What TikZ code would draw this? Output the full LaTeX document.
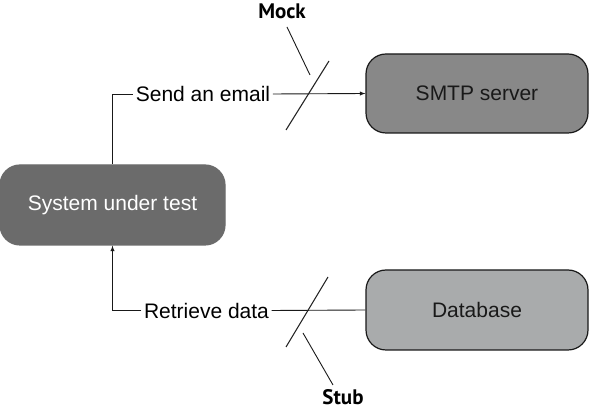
\documentclass[tikz,border=0pt]{standalone}
\usepackage{fontspec}
\setmainfont{Liberation Sans}
\newfontfamily\calloutfont{PT Sans}
\usetikzlibrary{arrows}
\definecolor{sutgray}{HTML}{6B6B6B}
\definecolor{smtpgray}{HTML}{888888}
\definecolor{dbgray}{HTML}{A9ABAC}
\tikzset{
    box/.style={rounded corners=20pt,minimum width=222pt,minimum height=79pt,
        draw=black!90,line width=1.2pt,text=black!90,
        font=\fontsize{21}{24}\selectfont},
    msg/.style={inner sep=2.5pt,font=\fontsize{21}{24}\selectfont},
    callout/.style={inner sep=1pt,font=\calloutfont\bfseries\fontsize{21}{24}\selectfont},
    wire/.style={line width=0.9pt,black!90},
    slash/.style={line width=1.1pt,black!85}
}
\begin{document}
\begin{tikzpicture}[x=1pt,y=-1pt]
\useasboundingbox (0,0) rectangle (590,411);

% les trois boites
\node[box,fill=sutgray,draw=sutgray,text=white,minimum width=225pt,minimum height=80pt]
    (sut) at (112.5,205) {System under test};
\node[box,fill=smtpgray] (smtp) at (477,93.5) {SMTP server};
\node[box,fill=dbgray,minimum height=80pt] (db) at (477,310) {Database};

% les messages
\node[msg] (send) at (203,94) {Send an email};
\node[msg] (retrieve) at (206.5,310.5) {Retrieve data};

\draw[wire] (sut.north) |- (send.west);
\draw[wire,-latex] (send.east) -- (smtp.west);
\draw[wire] (db.west) -- (retrieve.east);
\draw[wire,-latex] (retrieve.west) -| (sut.south);

% mock
\node[callout] (mock) at (282,11) {Mock};
\coordinate (mocktail) at (287,27);
\coordinate (mockpin) at (310,75);
\coordinate (mockup) at (329,61);
\coordinate (mockdown) at (286,130);
\draw[slash] (mockdown) -- (mockup);
\draw[wire] (mocktail) -- (mockpin);

% stub
\node[callout] (stub) at (343,397) {Stub};
\coordinate (stubtail) at (333,385);
\coordinate (stubpin) at (303,333);
\coordinate (stubup) at (328,277);
\coordinate (stubdown) at (286,347);
\draw[slash] (stubdown) -- (stubup);
\draw[wire] (stubpin) -- (stubtail);

\end{tikzpicture}
\end{document}
